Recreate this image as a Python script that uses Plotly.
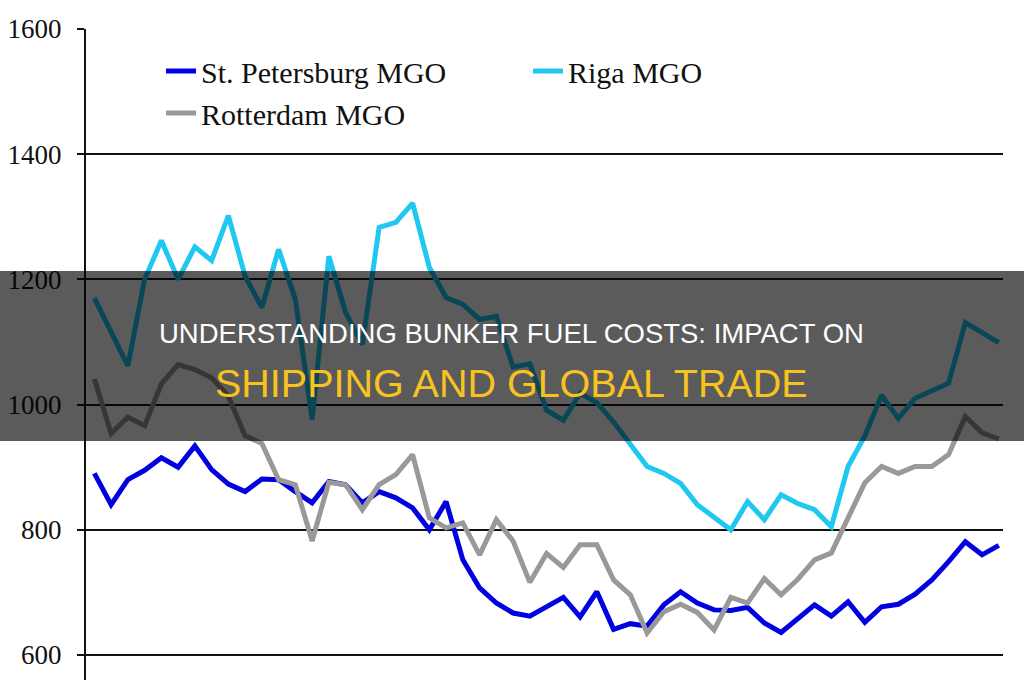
import plotly.graph_objects as go

# Weekly MGO prices (USD/t)
periods = list(range(55))

st_petersburg = [890, 840, 880, 895, 915, 900, 934, 896, 873, 861,
                 881, 880, 861, 843, 877, 872, 843, 861, 851, 835,
                 800, 845, 752, 707, 683, 667, 662, 677, 692, 661,
                 701, 641, 650, 646, 680, 701, 683, 672, 671, 676,
                 651, 636, 659, 680, 662, 685, 652, 677, 681, 697,
                 720, 749, 781, 760, 775]

riga = [1170, 1115, 1062, 1200, 1262, 1200, 1252, 1230, 1302, 1205,
        1155, 1248, 1168, 976, 1237, 1147, 1096, 1283, 1291, 1322,
        1219, 1171, 1160, 1136, 1141, 1060, 1065, 991, 975, 1018,
        1003, 972, 938, 901, 890, 874, 840, 821, 800, 845,
        816, 856, 842, 832, 805, 901, 950, 1015, 978, 1010,
        1023, 1034, 1131, 1115, 1099]

rotterdam = [1041, 954, 980, 966, 1033, 1064, 1056, 1043, 1013, 950,
             938, 880, 872, 782, 876, 872, 832, 872, 888, 920,
             819, 803, 811, 760, 816, 782, 716, 762, 740, 776,
             776, 720, 696, 635, 669, 681, 668, 640, 692, 683,
             722, 696, 721, 752, 763, 818, 875, 901, 890, 901,
             901, 920, 981, 955, 945]

series_names = ["St. Petersburg MGO", "Riga MGO", "Rotterdam MGO"]
series_values = [st_petersburg, riga, rotterdam]
series_colors = ["#0000e0", "#1ec8f0", "#999999"]

y_ticks = [600, 800, 1000, 1200, 1400, 1600]

title_line1 = "UNDERSTANDING BUNKER FUEL COSTS: IMPACT ON"
title_line2 = "SHIPPING AND GLOBAL TRADE"

fig = go.Figure()
for name, vals, col in zip(series_names, series_values, series_colors):
    fig.add_trace(go.Scatter(
        x=periods, y=vals, mode="lines", name=name,
        line=dict(color=col, width=5),
    ))

W, H = 1024, 680
ml, mr, mt, mb = 86, 21, 29, 0
pw = W - ml - mr
ph = H - mt - mb

def px_x(px):
    return (px - ml) / pw

def px_y(py):
    return (H - mb - py) / ph

fig.update_layout(
    width=W, height=H,
    margin=dict(l=ml, r=mr, t=mt, b=mb, pad=0),
    paper_bgcolor="white", plot_bgcolor="white",
    showlegend=True,
    legend=dict(
        orientation="h",
        x=px_x(161), y=px_y(45), xanchor="left", yanchor="top",
        font=dict(family="Liberation Serif", size=30, color="#111111"),
        bgcolor="rgba(0,0,0,0)",
        entrywidth=322, entrywidthmode="pixels",
        itemwidth=30,
    ),
    xaxis=dict(
        range=[-0.5, 54.25], showgrid=False, zeroline=False,
        showline=False, showticklabels=False, ticks="",
    ),
    yaxis=dict(
        range=[560, 1600], tickvals=y_ticks,
        ticktext=[str(v) for v in y_ticks],
        showgrid=True, gridcolor="#111111", gridwidth=1.6,
        zeroline=False, showline=True, linecolor="#111111", linewidth=2,
        ticks="outside", ticklen=7, tickcolor="#111111", tickwidth=1.6,
        tickfont=dict(family="Liberation Serif", size=27, color="#111111"),
        ticklabelstandoff=10,
    ),
    shapes=[dict(
        type="rect", xref="paper", yref="paper",
        x0=px_x(-5), x1=px_x(W + 5), y0=px_y(441), y1=px_y(271),
        fillcolor="rgba(0,0,0,0.645)", line=dict(width=0), layer="above",
    )],
    annotations=[
        dict(text=title_line1, xref="paper", yref="paper",
             x=px_x(511), y=px_y(333), xanchor="center", yanchor="middle",
             showarrow=False,
             font=dict(family="Liberation Sans", size=27.5, color="white")),
        dict(text=title_line2, xref="paper", yref="paper",
             x=px_x(511), y=px_y(383), xanchor="center", yanchor="middle",
             showarrow=False,
             font=dict(family="Liberation Sans", size=39.5, color="#f8c31f")),
    ],
)

fig.write_html("out.html", config={"displayModeBar": False})
